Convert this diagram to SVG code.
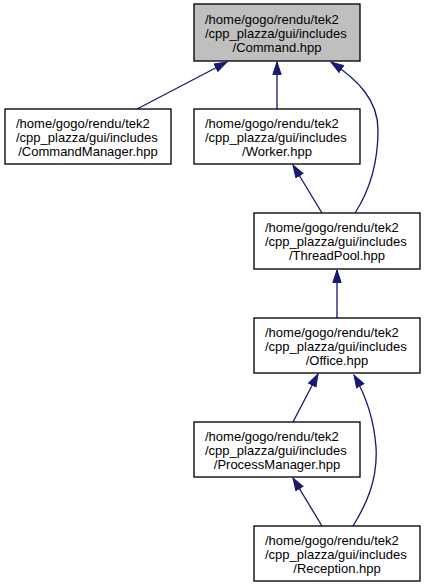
<svg xmlns="http://www.w3.org/2000/svg" width="425" height="587" viewBox="0 0 425 587">
<style>
.box{fill:#ffffff;stroke:#000000;stroke-width:1.33}
.hl{fill:#bfbfbf}
text{font-family:"Liberation Sans",Arial,sans-serif;font-size:13px;fill:#000000}
.m{text-anchor:middle}
.e{fill:none;stroke:#191970;stroke-width:1.33}
</style>
<defs>
<marker id="ah" markerUnits="userSpaceOnUse" markerWidth="15" markerHeight="12" refX="13" refY="4.7" orient="auto">
<path d="M0.5,0.5 L13,4.7 L0.5,8.9 z" fill="#191970" stroke="#191970" stroke-width="1"/>
</marker>
</defs>
<rect width="425" height="587" fill="#ffffff"/>
<g id="edges">
<path class="e" d="M137,109 L227,62" marker-end="url(#ah)"/>
<path class="e" d="M277,109 L277,62" marker-end="url(#ah)"/>
<path class="e" d="M355,213 C368,193 378,165 378,130 C378,100 358,80 331,62" marker-end="url(#ah)"/>
<path class="e" d="M322,213 L293,165" marker-end="url(#ah)"/>
<path class="e" d="M337,318 L337,270" marker-end="url(#ah)"/>
<path class="e" d="M293,422 L318,374" marker-end="url(#ah)"/>
<path class="e" d="M353,526 C366,505 378,480 376,447 C374,420 366,396 354,375" marker-end="url(#ah)"/>
<path class="e" d="M322,526 L293,478" marker-end="url(#ah)"/>
</g>
<g id="command">
<rect class="box hl" x="194" y="4" width="166" height="57"/>
<text x="205" y="24">/home/gogo/rendu/tek2</text>
<text x="205" y="38">/cpp_plazza/gui/includes</text>
<text class="m" x="277" y="52">/Command.hpp</text>
</g>
<g id="commandmanager">
<rect class="box" x="5" y="109" width="166" height="55"/>
<text x="16" y="128">/home/gogo/rendu/tek2</text>
<text x="16" y="142">/cpp_plazza/gui/includes</text>
<text class="m" x="88" y="156">/CommandManager.hpp</text>
</g>
<g id="worker">
<rect class="box" x="194" y="109" width="166" height="55"/>
<text x="205" y="128">/home/gogo/rendu/tek2</text>
<text x="205" y="142">/cpp_plazza/gui/includes</text>
<text class="m" x="277" y="156">/Worker.hpp</text>
</g>
<g id="threadpool">
<rect class="box" x="254" y="213" width="166" height="56"/>
<text x="265" y="232">/home/gogo/rendu/tek2</text>
<text x="265" y="246">/cpp_plazza/gui/includes</text>
<text class="m" x="337" y="260">/ThreadPool.hpp</text>
</g>
<g id="office">
<rect class="box" x="254" y="318" width="166" height="55"/>
<text x="265" y="337">/home/gogo/rendu/tek2</text>
<text x="265" y="351">/cpp_plazza/gui/includes</text>
<text class="m" x="337" y="365">/Office.hpp</text>
</g>
<g id="processmanager">
<rect class="box" x="194" y="422" width="166" height="55"/>
<text x="205" y="441">/home/gogo/rendu/tek2</text>
<text x="205" y="455">/cpp_plazza/gui/includes</text>
<text class="m" x="277" y="469">/ProcessManager.hpp</text>
</g>
<g id="reception">
<rect class="box" x="254" y="526" width="166" height="55"/>
<text x="265" y="545">/home/gogo/rendu/tek2</text>
<text x="265" y="559">/cpp_plazza/gui/includes</text>
<text class="m" x="337" y="573">/Reception.hpp</text>
</g>
</svg>
